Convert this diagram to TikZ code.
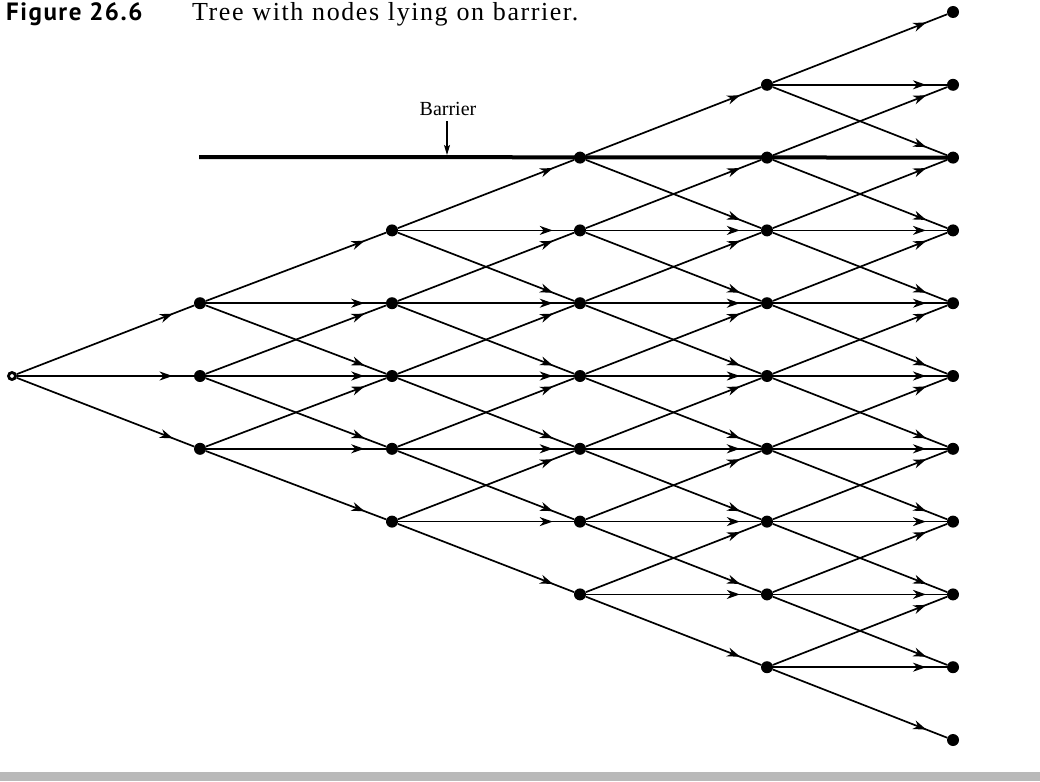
\documentclass[tikz,border=0pt]{standalone}
\usepackage{fontspec}
\setmainfont{Liberation Serif}
\newfontfamily\figsans[LetterSpace=6]{PT Sans}
\newfontfamily\capserif[LetterSpace=6,WordSpace=1.1]{Liberation Serif}
\usetikzlibrary{arrows.meta,decorations.markings}
\begin{document}
\begin{tikzpicture}[x=1pt,y=-1pt,
  treenode/.style={circle,fill=black,inner sep=0pt,minimum size=12pt},
  rootnode/.style={circle,draw=black,line width=2.8pt,fill=white,inner sep=0pt,minimum size=7pt},
  plainedge/.style={line width=1.7pt},
  treeedge/.style={plainedge,postaction={decorate},
    decoration={markings,mark=at position 0.88 with {\arrow{Stealth[length=13pt,width=9pt,inset=4pt]}}}},
  barrierline/.style={line width=4pt},
]
\useasboundingbox (0,0) rectangle (1040,781);
\fill[gray!55] (0,772) rectangle (1040,781);
% caption
\node[anchor=base west,inner sep=0pt,font=\figsans\bfseries\fontsize{25}{28}\selectfont] (figlab) at (6,21) {Figure 26.6};
\node[anchor=base west,inner sep=0pt,font=\capserif\fontsize{26}{28}\selectfont] (figcap) at (192,21) {Tree with nodes lying on barrier.};
% nodes
\node[rootnode] (n0-5) at (12,376) {};
\foreach \j/\x in {1/200,2/392,3/580,4/767,5/953}{
  \pgfmathtruncatemacro\lo{5-\j}
  \pgfmathtruncatemacro\hi{5+\j}
  \foreach \m in {\lo,...,\hi}{
    \node[treenode] (n\j-\m) at (\x,{376+72.8*(\m-5)}) {};
  }
}
% edges
\foreach \j in {0,...,4}{
  \pgfmathtruncatemacro\lo{5-\j}
  \pgfmathtruncatemacro\hi{5+\j}
  \pgfmathtruncatemacro\jj{\j+1}
  \foreach \m in {\lo,...,\hi}{
    \pgfmathtruncatemacro\ma{\m-1}
    \pgfmathtruncatemacro\mb{\m+1}
    \pgfmathtruncatemacro\onbar{(\m==2)&&(\j>=3)}
    \draw[treeedge] (n\j-\m) -- (n\jj-\ma);
    \ifnum\onbar=1
      \draw[plainedge] (n\j-\m) -- (n\jj-\m);
    \else
      \draw[treeedge] (n\j-\m) -- (n\jj-\m);
    \fi
    \draw[treeedge] (n\j-\m) -- (n\jj-\mb);
  }
}
% barrier
\coordinate (bl) at (199,157);
\draw[barrierline] (bl) -- (n5-2.center);
\node[inner sep=0pt,font=\fontsize{20}{22}\selectfont] (blabel) at (448,109) {Barrier};
\coordinate (btip) at (447,155);
\coordinate (btail) at (447,121);
\draw[line width=1.1pt,-{Stealth[length=10pt,width=6pt,inset=2pt]}] (btail) -- (btip);
\end{tikzpicture}
\end{document}
